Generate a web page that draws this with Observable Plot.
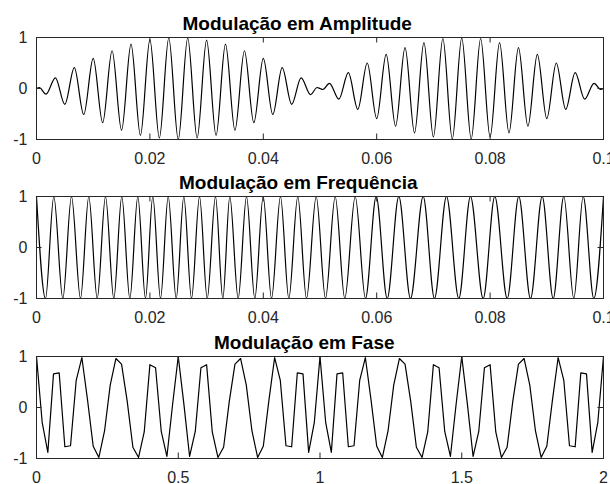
<!DOCTYPE html>
<html><head><meta charset="utf-8">
<script src="https://cdn.jsdelivr.net/npm/d3@7"></script>
<script src="https://cdn.jsdelivr.net/npm/@observablehq/plot@0.6"></script>
<style>
html,body{margin:0;padding:0;background:#fff;}
#chart svg{display:block;}
</style></head><body><div id="chart"></div>
<script>
// ---- Titles ----
const titles = ["Modulação em Amplitude", "Modulação em Frequência", "Modulação em Fase"];

// ---- Tick values and labels ----
const timeTicks = [0, 0.02, 0.04, 0.06, 0.08, 0.1];
const timeTickLabels = ["0", "0.02", "0.04", "0.06", "0.08", "0.1"];
const phaseTicks = [0, 0.5, 1, 1.5, 2];
const phaseTickLabels = ["0", "0.5", "1", "1.5", "2"];
const yTicks = [-1, 0, 1];
const yTickLabels = ["-1", "0", "1"];

// ---- AM: extrema (time s, value) ----
const amT = [0, 0.0005, 0.00167, 0.00333, 0.005, 0.00667, 0.00833, 0.01, 0.01167, 0.01333, 0.015, 0.01667, 0.01833, 0.02, 0.02167, 0.02333, 0.025, 0.02667, 0.02833, 0.03, 0.03167, 0.03333, 0.035, 0.03667, 0.03833, 0.04, 0.04167, 0.04333, 0.045, 0.04667, 0.04833, 0.0495, 0.05, 0.0505, 0.05167, 0.05333, 0.055, 0.05667, 0.05833, 0.06, 0.06167, 0.06333, 0.065, 0.06667, 0.06833, 0.07, 0.07167, 0.07333, 0.075, 0.07667, 0.07833, 0.08, 0.08167, 0.08333, 0.085, 0.08667, 0.08833, 0.09, 0.09167, 0.09333, 0.095, 0.09667, 0.09833, 0.0995, 0.1];
const amY = [0, 0.02, -0.11, 0.21, -0.31, 0.41, -0.51, 0.59, -0.67, 0.74, -0.82, 0.87, -0.92, 0.96, -0.97, 0.99, -1.0, 0.99, -0.97, 0.95, -0.92, 0.87, -0.82, 0.74, -0.67, 0.59, -0.51, 0.41, -0.31, 0.21, -0.12, 0.02, 0, -0.02, 0.10, -0.21, 0.31, -0.41, 0.50, -0.59, 0.67, -0.74, 0.80, -0.87, 0.90, -0.95, 0.98, -0.99, 0.99, -0.99, 0.98, -0.95, 0.90, -0.87, 0.80, -0.74, 0.67, -0.59, 0.50, -0.41, 0.31, -0.21, 0.10, -0.02, 0];

// ---- FM: extrema ----
const fmT = [0, 0.00159, 0.00305, 0.00464, 0.00617, 0.00776, 0.00922, 0.01071, 0.01217, 0.01363, 0.01504, 0.01646, 0.01787, 0.01922, 0.02051, 0.02187, 0.02323, 0.02464, 0.02598, 0.02734, 0.02875, 0.03011, 0.03157, 0.03286, 0.03409, 0.03557, 0.03704, 0.03850, 0.03998, 0.04145, 0.04303, 0.04450, 0.04608, 0.04762, 0.04933, 0.05097, 0.05268, 0.05437, 0.05621, 0.05802, 0.05991, 0.06185, 0.06390, 0.06596, 0.06820, 0.07019, 0.07231, 0.07448, 0.07654, 0.07878, 0.08083, 0.08302, 0.08506, 0.08713, 0.08919, 0.09113, 0.09300, 0.09476, 0.09642, 0.09829, 0.1];
const fmY = [1, -1, 1, -1, 1, -1, 1, -1, 1, -1, 1, -1, 1, -1, 1, -1, 1, -1, 1, -1, 1, -1, 1, -1, 1, -1, 1, -1, 1, -1, 1, -1, 1, -1, 1, -1, 1, -1, 1, -1, 1, -1, 1, -1, 1, -1, 1, -1, 1, -1, 1, -1, 1, -1, 1, -1, 1, -1, 1, -1, 1];

// ---- PM: samples ----
const pmT = [0, 0.02, 0.04, 0.06, 0.08, 0.1, 0.12, 0.14, 0.16, 0.18, 0.2, 0.22, 0.24, 0.26, 0.28, 0.3, 0.32, 0.34, 0.36, 0.38, 0.4, 0.42, 0.44, 0.46, 0.48, 0.5, 0.52, 0.54, 0.56, 0.58, 0.6, 0.62, 0.64, 0.66, 0.68, 0.7, 0.72, 0.74, 0.76, 0.78, 0.8, 0.82, 0.84, 0.86, 0.88, 0.9, 0.92, 0.94, 0.96, 0.98, 1, 1.02, 1.04, 1.06, 1.08, 1.1, 1.12, 1.14, 1.16, 1.18, 1.2, 1.22, 1.24, 1.26, 1.28, 1.3, 1.32, 1.34, 1.36, 1.38, 1.4, 1.42, 1.44, 1.46, 1.48, 1.5, 1.52, 1.54, 1.56, 1.58, 1.6, 1.62, 1.64, 1.66, 1.68, 1.7, 1.72, 1.74, 1.76, 1.78, 1.8, 1.82, 1.84, 1.86, 1.88, 1.9, 1.92, 1.94, 1.96, 1.98, 2];
const pmY = [1.00, -0.29, -0.88, 0.66, 0.68, -0.77, -0.75, 0.53, 0.98, 0.15,
 -0.76, -0.98, -0.46, 0.44, 0.96, 0.85, 0.12, -0.78, -0.98, -0.48,
 0.84, 0.78, -0.47, -0.96, 0.06, 1.00, 0.06, -0.96, -0.47, 0.78,
 0.84, -0.48, -0.98, -0.78, 0.12, 0.85, 0.96, 0.44, -0.46, -0.98,
 -0.76, 0.15, 0.98, 0.53, -0.75, -0.77, 0.68, 0.66, -0.88, -0.29,
 1.00,
 -0.29, -0.88, 0.66, 0.68, -0.77, -0.75, 0.53, 0.98, 0.15, -0.76,
 -0.98, -0.46, 0.44, 0.96, 0.85, 0.12, -0.78, -0.98, -0.48, 0.84,
 0.78, -0.47, -0.96, 0.06, 1.00, 0.06, -0.96, -0.47, 0.78, 0.84,
 -0.48, -0.98, -0.78, 0.12, 0.85, 0.96, 0.44, -0.46, -0.98, -0.76,
 0.15, 0.98, 0.53, -0.75, -0.77, 0.68, 0.66, -0.88, -0.29, 1.00];

const AXIS = "#262626";
const FONT = "'Liberation Sans', Arial, Helvetica, sans-serif";

function panel({title, titleDx, t, y, curve, xDomain, xTicks, xLabels, marginTop, marginBottom, height}) {
  const W = 610, ml = 36, mr = 7;
  const fw = W - ml - mr;
  const fh = height - marginTop - marginBottom;
  const data = t.map((d, i) => ({t: d, v: y[i]}));
  const tl = 5.5;
  return Plot.plot({
    width: W, height, marginLeft: ml, marginRight: mr, marginTop, marginBottom,
    style: {fontFamily: FONT, fontSize: "16px", color: AXIS, background: "white", overflow: "visible"},
    x: {domain: xDomain},
    y: {domain: [-1, 1]},
    marks: [
      Plot.line(data, {x: "t", y: "v", curve, stroke: "black", strokeWidth: 1.2}),
      Plot.frame({stroke: AXIS, strokeWidth: 1}),
      Plot.tickX(xTicks, {x: d => d, insetTop: fh - tl, stroke: AXIS}),
      Plot.tickX(xTicks, {x: d => d, insetBottom: fh - tl, stroke: AXIS}),
      Plot.tickY(yTicks, {y: d => d, insetRight: fw - tl, stroke: AXIS}),
      Plot.tickY(yTicks, {y: d => d, insetLeft: fw - tl, stroke: AXIS}),
      Plot.axisX({ticks: xTicks, tickFormat: d => xLabels[xTicks.indexOf(d)], tickSize: 0, tickPadding: 13, fontSize: 16, label: null}),
      Plot.axisY({ticks: yTicks, tickFormat: d => yTickLabels[yTicks.indexOf(d)], tickSize: 0, tickPadding: 9, fontSize: 16, label: null}),
      Plot.text([title], {frameAnchor: "top-left", textAnchor: "middle", lineAnchor: "bottom", dx: titleDx, dy: -8, fontWeight: "bold", fontSize: 19, fill: "black"})
    ]
  });
}

const root = document.getElementById("chart");
root.append(panel({title: titles[0], titleDx: 260.7, t: amT, y: amY, curve: "monotone-x", xDomain: [0, 0.1], xTicks: timeTicks, xLabels: timeTickLabels, marginTop: 37, marginBottom: 28, height: 167}));
root.append(panel({title: titles[1], titleDx: 261.8, t: fmT, y: fmY, curve: "monotone-x", xDomain: [0, 0.1], xTicks: timeTicks, xLabels: timeTickLabels, marginTop: 29, marginBottom: 28, height: 159}));
root.append(panel({title: titles[2], titleDx: 267.8, t: pmT, y: pmY, curve: "linear", xDomain: [0, 2], xTicks: phaseTicks, xLabels: phaseTickLabels, marginTop: 30, marginBottom: 26, height: 158}));
</script></body></html>
